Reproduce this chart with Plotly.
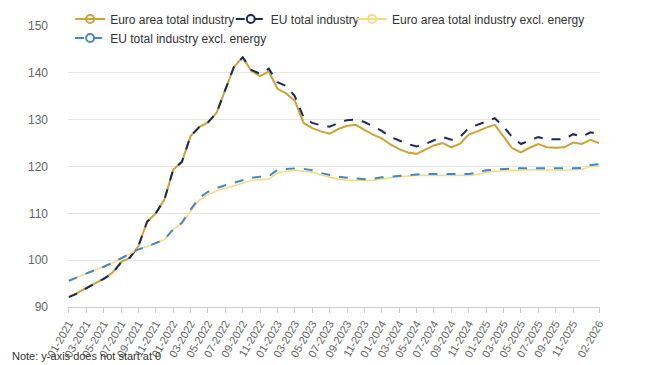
import plotly.graph_objects as go

months = [f"{m:02d}-{y}" for y in range(2021, 2027) for m in range(1, 13)][:62]

ea_total = [92.2, 93.0, 94.1, 95.0, 96.0, 97.3, 99.6, 100.5, 103.0, 108.2,
            110.0, 113.0, 119.3, 121.0, 126.5, 128.4, 129.4, 131.5, 136.5, 141.3,
            143.3, 140.4, 139.3, 140.3, 136.6, 135.6, 134.0, 129.3, 128.2, 127.5,
            127.0, 128.0, 128.7, 128.9, 127.8, 126.8, 126.0, 124.7, 123.7, 123.0,
            122.7, 123.6, 124.5, 125.0, 124.1, 124.9, 126.8, 127.5, 128.3, 128.9,
            126.3, 123.9, 123.0, 124.0, 124.8, 124.1, 124.0, 124.1, 125.1, 124.8,
            125.7, 125.0]

eu_total = [92.1, 92.9, 94.0, 95.0, 96.0, 97.2, 99.5, 100.5, 103.0, 108.2,
            110.0, 113.0, 119.3, 121.0, 126.5, 128.4, 129.4, 131.5, 136.5, 141.3,
            143.3, 140.6, 139.8, 140.9, 138.0, 137.2, 135.0, 130.5, 129.3, 128.8,
            128.5, 129.3, 129.9, 130.0, 129.5, 128.6, 127.6, 126.3, 125.5, 124.8,
            124.3, 124.8, 125.6, 126.3, 125.7, 126.3, 128.2, 128.9, 129.6, 130.3,
            128.5, 126.3, 124.8, 125.5, 126.3, 125.8, 125.8, 125.8, 126.9, 126.4,
            127.3, 126.9]

ea_excl = [95.6, 96.4, 97.2, 97.9, 98.6, 99.4, 100.4, 101.3, 102.3, 102.9,
           103.6, 104.4, 106.6, 107.8, 110.5, 112.8, 114.0, 114.8, 115.3, 115.9,
           116.4, 117.0, 117.2, 117.3, 118.6, 119.0, 119.2, 119.0, 118.8, 118.2,
           117.7, 117.3, 117.1, 117.0, 117.0, 117.1, 117.4, 117.6, 117.8, 118.0,
           118.1, 118.1, 118.1, 118.1, 118.1, 118.1, 118.1, 118.3, 118.8, 119.0,
           119.1, 119.2, 119.3, 119.3, 119.3, 119.2, 119.2, 119.2, 119.3, 119.4,
           120.0, 120.1]

eu_excl = [95.6, 96.4, 97.2, 97.9, 98.6, 99.4, 100.4, 101.3, 102.3, 102.9,
           103.6, 104.4, 106.6, 108.0, 110.8, 113.3, 114.6, 115.4, 116.0, 116.5,
           117.0, 117.6, 117.8, 117.9, 119.3, 119.5, 119.6, 119.5, 119.2, 118.6,
           118.2, 117.8, 117.6, 117.4, 117.3, 117.4, 117.7, 117.8, 118.0, 118.2,
           118.3, 118.4, 118.4, 118.4, 118.4, 118.4, 118.4, 118.7, 119.2, 119.3,
           119.5, 119.6, 119.6, 119.6, 119.6, 119.6, 119.6, 119.5, 119.6, 119.7,
           120.3, 120.5]

series_names = ["Euro area total industry", "EU total industry",
                "Euro area total industry excl. energy", "EU total industry excl. energy"]
series_values = [ea_total, eu_total, ea_excl, eu_excl]
series_colors = ["#C9A43A", "#1B2A5C", "#F2DC8C", "#4A86B8"]
series_dash = ["solid", "dash", "solid", "dash"]
series_width = [2, 2, 1.6, 2]

tick_labels = months[0:59:2] + [months[61]]
y_ticks = [90, 100, 110, 120, 130, 140, 150]

x_idx = list(range(len(months)))
legend_ids = ["legend", "legend2", "legend3", "legend4"]
legend_pos = [(0.004, 1.025), (0.306, 1.025), (0.534, 1.025), (0.004, 0.957)]

fig = go.Figure()
for name, vals, col, dash, w in zip(series_names, series_values, series_colors, series_dash, series_width):
    fig.add_trace(go.Scatter(x=x_idx, y=vals, mode="lines", name=name, showlegend=False,
                             line=dict(color=col, width=w, dash=dash), hoverinfo="skip"))
for name, col, dash, lid in zip(series_names, series_colors, series_dash, legend_ids):
    fig.add_trace(go.Scatter(x=[None], y=[None], mode="lines+markers", name=name, legend=lid,
                             line=dict(color=col, width=2, dash=dash),
                             marker=dict(symbol="circle-open", size=8, color=col,
                                         line=dict(width=2, color=col))))

tick_vals = [months.index(t) for t in tick_labels]

legend_common = dict(orientation="h", xanchor="left", yanchor="middle",
                     font=dict(size=12, color="#333"), bgcolor="rgba(0,0,0,0)",
                     borderwidth=0, itemwidth=30)
legends = {}
for lid, (lx, ly) in zip(legend_ids, legend_pos):
    legends[lid] = dict(legend_common, x=lx, y=ly)

fig.update_layout(
    width=642, height=357,
    margin=dict(l=60, r=50, t=18, b=58, autoexpand=False),
    paper_bgcolor="white", plot_bgcolor="white",
    font=dict(family="Liberation Sans, Arial, sans-serif", size=12, color="#333"),
    showlegend=True,
    xaxis=dict(range=[-0.1, 61.1], tickmode="array", tickvals=tick_vals, ticktext=tick_labels,
               tickangle=-60, tickfont=dict(size=11, color="#666"),
               showgrid=False, zeroline=False, showline=True, linecolor="#ccc", linewidth=1,
               ticks="outside", ticklen=5, tickcolor="#ccc"),
    yaxis=dict(range=[90, 150], tickvals=y_ticks, tickfont=dict(size=12, color="#666"),
               showgrid=True, gridcolor="#e6e6e6", zeroline=False, showline=False,
               ticks="", ticklabelstandoff=19),
    **legends,
)

fig.add_annotation(text="Note: y-axis does not start at 0", xref="paper", yref="paper",
                   x=-0.109, y=-0.203, xanchor="left", yanchor="bottom", showarrow=False,
                   font=dict(size=11, color="#333"))

fig.write_html("out.html")
